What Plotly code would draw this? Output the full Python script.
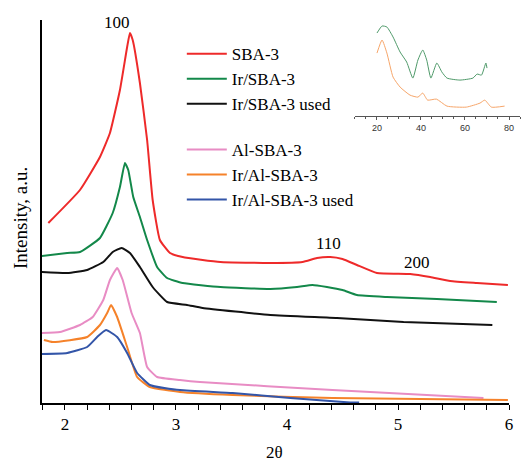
import plotly.graph_objects as go

# ---- main chart data (2theta vs intensity, a.u.) ----
sba3_x = [1.85, 2.135, 2.315, 2.405, 2.495, 2.56, 2.585, 2.61, 2.675, 2.74, 2.79, 2.855, 2.946, 3.06, 3.40, 3.85, 4.14, 4.27, 4.39, 4.50, 4.63, 4.81, 5.11, 5.29, 5.47, 5.71, 5.99]
sba3_y = [180, 213, 246, 270, 313, 356, 370, 363, 320, 263, 203, 163, 150, 146, 141, 140, 141, 145, 146, 144, 138, 130, 129, 126, 122, 120, 118]

irsba3_x = [1.79, 2.02, 2.135, 2.315, 2.43, 2.495, 2.54, 2.57, 2.615, 2.675, 2.74, 2.83, 2.92, 3.06, 3.40, 3.85, 4.09, 4.23, 4.36, 4.50, 4.63, 4.90, 5.35, 5.89]
irsba3_y = [147, 150, 151, 165, 190, 216, 240, 233, 206, 186, 163, 136, 125, 120, 116, 114, 116, 118, 116, 113, 108, 106, 104, 101]

irsba3u_x = [1.79, 2.02, 2.2, 2.345, 2.43, 2.51, 2.585, 2.675, 2.79, 2.92, 3.10, 3.24, 3.85, 4.45, 5.05, 5.85]
irsba3u_y = [131, 130, 133, 141, 151, 155, 150, 136, 116, 101, 98, 95, 88, 85, 81, 78]

alsba3_x = [1.79, 1.955, 2.135, 2.25, 2.345, 2.405, 2.47, 2.52, 2.60, 2.675, 2.74, 2.83, 3.036, 3.216, 4.41, 5.77]
alsba3_y = [70, 71, 78, 86, 103, 123, 135, 123, 90, 70, 36, 26, 23, 21, 13, 5]

iralsba3_x = [1.81, 1.89, 2.2, 2.315, 2.38, 2.415, 2.47, 2.56, 2.65, 2.765, 3.036, 3.51, 4.41, 5.99]
iralsba3_y = [63, 61, 66, 78, 90, 98, 86, 56, 26, 16, 11, 8, 5, 3]

iralsba3u_x = [1.79, 2.02, 2.2, 2.29, 2.37, 2.47, 2.56, 2.65, 2.765, 3.036, 3.51, 4.03, 4.57, 4.65]
iralsba3u_y = [49, 50, 56, 66, 73, 66, 50, 30, 18, 13, 10, 5, 0.5, 0.5]

# ---- inset data (wide angle 2theta) ----
inset_g_x = [20, 22.3, 24.5, 27.3, 30.5, 33.5, 36.3, 38.6, 40.8, 42.6, 44.5, 47.2, 49.5, 51.8, 57.7, 63.6, 65.5, 67.5, 69.5, 70]
inset_g_y = [83, 90, 89, 79, 64, 54, 38, 56, 66, 56, 38, 53, 44, 38, 36, 38, 42, 41, 53, 48]
inset_o_x = [20, 22.3, 24.5, 27.3, 30.5, 35, 38.6, 40.8, 43, 47, 51.8, 60.6, 66.8, 69, 72, 78]
inset_o_y = [63, 76, 63, 39, 29, 21, 19, 23, 16, 17, 10, 9, 13, 16, 9, 10]

names = ["SBA-3", "Ir/SBA-3", "Ir/SBA-3 used", "Al-SBA-3", "Ir/Al-SBA-3", "Ir/Al-SBA-3 used"]
colors = ["#ee2a2a", "#13884a", "#111111", "#e88cc4", "#f5822a", "#3355a8"]
xs = [sba3_x, irsba3_x, irsba3u_x, alsba3_x, iralsba3_x, iralsba3u_x]
ys = [sba3_y, irsba3_y, irsba3u_y, alsba3_y, iralsba3_y, iralsba3u_y]

SERIF = "Liberation Serif, Times New Roman, serif"

fig = go.Figure()
for i, (n, c, x, y) in enumerate(zip(names, colors, xs, ys)):
    fig.add_trace(go.Scatter(
        x=x, y=y, mode="lines", name=n,
        line=dict(color=c, width=2, shape="spline", smoothing=0.4),
        legend="legend" if i < 3 else "legend2",
    ))

fig.add_trace(go.Scatter(x=inset_g_x, y=inset_g_y, mode="lines", showlegend=False,
                         line=dict(color="#4f9a6a", width=1, shape="spline", smoothing=0.5),
                         xaxis="x2", yaxis="y2"))
fig.add_trace(go.Scatter(x=inset_o_x, y=inset_o_y, mode="lines", showlegend=False,
                         line=dict(color="#f7a66a", width=1, shape="spline", smoothing=0.5),
                         xaxis="x2", yaxis="y2"))

fig.update_layout(
    width=521, height=464,
    margin=dict(l=42, r=1, t=20, b=61, autoexpand=False),
    plot_bgcolor="white", paper_bgcolor="white",
    font=dict(family=SERIF, size=17, color="black"),
    xaxis=dict(domain=[0, 0.977], range=[1.793, 6.0], showgrid=False, zeroline=False, automargin=False,
               showline=True, linecolor="black", linewidth=1.5,
               ticks="outside", ticklen=5, tickwidth=1.3, tickcolor="black",
               tickvals=[2, 3, 4, 5, 6], tickfont=dict(family=SERIF, size=17),
               minor=dict(dtick=0.2, tick0=1.8, ticks="outside", ticklen=5, tickwidth=1.3, tickcolor="black")),
    yaxis=dict(domain=[0, 1], range=[0, 383], showgrid=False, zeroline=False, automargin=False,
               showline=True, linecolor="black", linewidth=1.5,
               showticklabels=False, ticks=""),
    xaxis2=dict(domain=[0.6548, 1.0], range=[10, 85], anchor="y2", showgrid=False, zeroline=False,
                showline=True, linecolor="#555555", linewidth=1, automargin=False,
                ticks="outside", ticklen=3, tickcolor="#555555", tickvals=[20, 40, 60, 80],
                tickfont=dict(family="Liberation Sans, Arial, sans-serif", size=9, color="#333333"),
                minor=dict(dtick=5, tick0=10, ticks="outside", ticklen=2, tickcolor="#555555")),
    yaxis2=dict(domain=[0.749, 1.0], range=[0, 96], anchor="x2", showgrid=False, zeroline=False,
                showline=False, showticklabels=False, ticks="", automargin=False),
    legend=dict(x=0.2925, y=0.958, xanchor="left", yanchor="top", bgcolor="rgba(0,0,0,0)",
                font=dict(family=SERIF, size=17), tracegroupgap=0, itemwidth=40),
    legend2=dict(x=0.2925, y=0.708, xanchor="left", yanchor="top", bgcolor="rgba(0,0,0,0)",
                 font=dict(family=SERIF, size=17), tracegroupgap=0, itemwidth=40),
    annotations=[
        dict(x=2.468, y=381, xref="x", yref="y", text="100", showarrow=False,
             font=dict(family=SERIF, size=17)),
        dict(x=4.37, y=160, xref="x", yref="y", text="110", showarrow=False,
             font=dict(family=SERIF, size=17)),
        dict(x=5.17, y=141, xref="x", yref="y", text="200", showarrow=False,
             font=dict(family=SERIF, size=17)),
        dict(x=0.487, y=-0.129, xref="paper", yref="paper", text="2θ", showarrow=False,
             xanchor="center", yanchor="middle", font=dict(family=SERIF, size=17)),
        dict(x=-0.046, y=0.483, xref="paper", yref="paper", text="Intensity, a.u.", showarrow=False,
             textangle=-90, xanchor="center", yanchor="middle", font=dict(family=SERIF, size=19)),
    ],
)

fig.write_html("out.html", config={"displayModeBar": False},
               post_script="document.body.style.margin='0px';")
